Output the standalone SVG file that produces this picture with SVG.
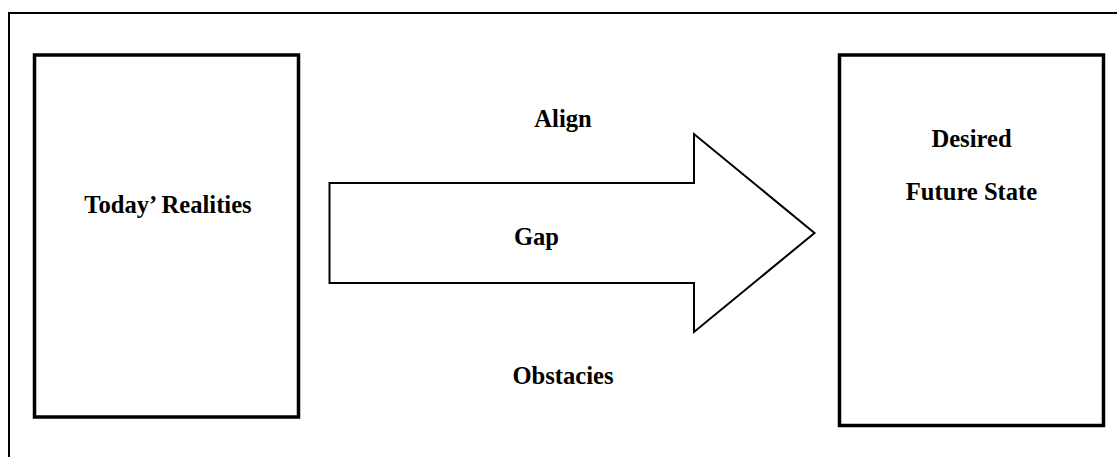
<svg xmlns="http://www.w3.org/2000/svg" width="1117" height="457" viewBox="0 0 1117 457">
  <style>
    .lbl { font-family: "Liberation Serif", "Times New Roman", serif; font-weight: bold; font-size: 24.6px; fill: #000; text-anchor: middle; }
    .box { fill: #fff; stroke: #000; stroke-width: 3.5; }
  </style>
  <rect width="1117" height="457" fill="#fff"/>
  <g id="frame">
    <rect x="9" y="13" width="1130" height="470" fill="none" stroke="#000" stroke-width="2"/>
  </g>
  <g id="today">
    <rect class="box" x="34.5" y="55" width="264" height="362"/>
    <text class="lbl" x="168" y="213">Today’ Realities</text>
  </g>
  <g id="future">
    <rect class="box" x="839.5" y="55" width="264" height="370.5"/>
    <text class="lbl" x="971.5" y="147">Desired</text>
    <text class="lbl" x="971.5" y="199.5">Future State</text>
  </g>
  <g id="connectors">
    <polygon id="gap-arrow" points="329.5,183 694,183 694,134 814.5,233 694,332 694,283 329.5,283" fill="#fff" stroke="#000" stroke-width="2"/>
    <text class="lbl" x="563" y="127">Align</text>
    <text class="lbl" x="536.5" y="245">Gap</text>
    <text class="lbl" x="563" y="384">Obstacies</text>
  </g>
</svg>
